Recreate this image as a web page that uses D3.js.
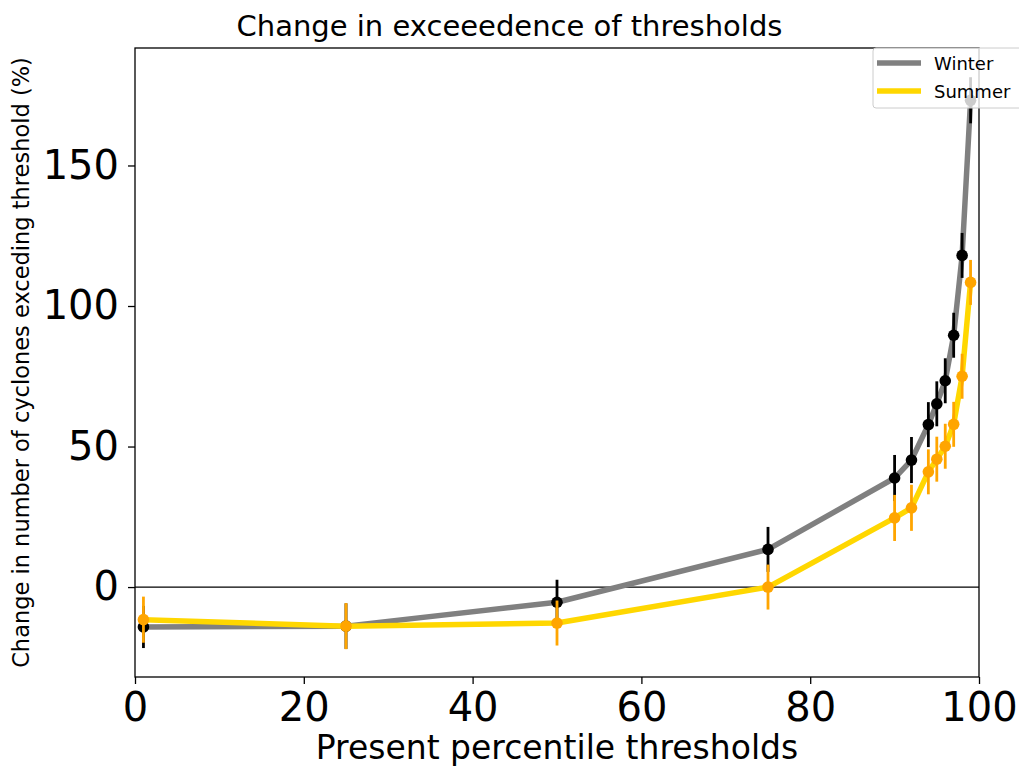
<!DOCTYPE html>
<html>
<head>
<meta charset="utf-8">
<script src="https://cdn.jsdelivr.net/npm/d3@7"></script>
<style>
  html, body { margin: 0; padding: 0; background: #fff; }
  svg { display: block; font-family: "DejaVu Sans", sans-serif; }
</style>
</head>
<body>
<svg id="chart" width="1019" height="769"></svg>
<script>
// Percentile thresholds (x positions)
const thresholds = [1, 25, 50, 75, 90, 92, 94, 95, 96, 97, 98, 99];

// Winter: change in number of cyclones exceeding threshold (%) and error half-widths
const winterValues = [-14.2, -13.9, -5.4, 13.4, 38.8, 45.2, 57.8, 65.2, 73.4, 89.6, 118.0, 173.2];
const winterErrors = [7.5, 8.1, 8.0, 8.0, 8.2, 8.2, 8.0, 8.0, 8.0, 8.0, 8.0, 8.2];

// Summer: change in number of cyclones exceeding threshold (%) and error half-widths
const summerValues = [-11.6, -13.9, -12.8, 0.0, 24.6, 28.2, 41.0, 45.5, 50.1, 57.9, 75.0, 108.4];
const summerErrors = [8.2, 8.2, 8.0, 8.0, 8.2, 8.2, 8.0, 8.0, 8.0, 8.0, 8.0, 8.0];

const xTicks = [0, 20, 40, 60, 80, 100];
const yTicks = [0, 50, 100, 150];

const seriesList = [
  { name: "Winter", values: winterValues, errors: winterErrors, line: "#808080", marker: "#000000" },
  { name: "Summer", values: summerValues, errors: summerErrors, line: "#FFD700", marker: "#FFA500" }
];

const svg = d3.select("#chart");
const margin = { left: 135, right: 1019 - 979, top: 48, bottom: 769 - 677 };
const width = 1019, height = 769;

const x = d3.scaleLinear().domain([0, 100]).range([margin.left, width - margin.right]);
const y = d3.scaleLinear().domain([-32, 191.8]).range([height - margin.bottom, margin.top]);

// Zero reference line
svg.append("line")
  .attr("x1", x(0)).attr("x2", x(100))
  .attr("y1", y(0)).attr("y2", y(0))
  .attr("stroke", "#000").attr("stroke-width", 1.3);

const plot = svg.append("g");
const lineGen = d3.line().x(d => x(d[0])).y(d => y(d[1]));

seriesList.forEach(s => {
  const pts = thresholds.map((t, i) => [t, s.values[i], s.errors[i]]);
  plot.append("path")
    .datum(pts)
    .attr("d", lineGen)
    .attr("fill", "none")
    .attr("stroke", s.line)
    .attr("stroke-width", 5.5)
    .attr("stroke-linejoin", "round");
  plot.append("g").selectAll("line")
    .data(pts).join("line")
    .attr("x1", d => x(d[0])).attr("x2", d => x(d[0]))
    .attr("y1", d => y(d[1] - d[2])).attr("y2", d => y(d[1] + d[2]))
    .attr("stroke", s.marker).attr("stroke-width", 2.8);
  plot.append("g").selectAll("circle")
    .data(pts).join("circle")
    .attr("cx", d => x(d[0])).attr("cy", d => y(d[1]))
    .attr("r", 5.8)
    .attr("fill", s.marker);
});

// Axes
const xAxis = svg.append("g")
  .attr("transform", `translate(0,${height - margin.bottom})`)
  .call(d3.axisBottom(x).tickValues(xTicks).tickSize(7).tickPadding(9).tickFormat(d3.format("d")));
const yAxis = svg.append("g")
  .attr("transform", `translate(${margin.left},0)`)
  .call(d3.axisLeft(y).tickValues(yTicks).tickSize(7).tickPadding(9).tickFormat(d3.format("d")));
[xAxis, yAxis].forEach(a => {
  a.select(".domain").remove();
  a.selectAll(".tick line").attr("stroke", "#000").attr("stroke-width", 1.3);
  a.selectAll(".tick text").attr("font-size", 40).attr("fill", "#000")
    .attr("font-family", "DejaVu Sans, sans-serif");
});

// Frame
svg.append("rect")
  .attr("x", x(0)).attr("y", margin.top)
  .attr("width", x(100) - x(0)).attr("height", height - margin.bottom - margin.top)
  .attr("fill", "none").attr("stroke", "#000").attr("stroke-width", 1.3);

// Titles
svg.append("text")
  .attr("x", width / 2).attr("y", 36)
  .attr("text-anchor", "middle").attr("font-size", 29)
  .text("Change in exceeedence of thresholds");
svg.append("text")
  .attr("x", (x(0) + x(100)) / 2).attr("y", 759)
  .attr("text-anchor", "middle").attr("font-size", 33)
  .text("Present percentile thresholds");
svg.append("text")
  .attr("transform", `translate(29,${(y.range()[0] + y.range()[1]) / 2}) rotate(-90)`)
  .attr("text-anchor", "middle").attr("font-size", 22.5)
  .text("Change in number of cyclones exceding threshold (%)");

// Legend
const legend = svg.append("g").attr("transform", "translate(873,48)");
legend.append("rect")
  .attr("x", 0).attr("y", 0).attr("width", 160).attr("height", 60).attr("rx", 3)
  .attr("fill", "rgba(255,255,255,0.8)").attr("stroke", "#cccccc").attr("stroke-width", 1);
seriesList.forEach((s, i) => {
  const ly = 15 + i * 28;
  legend.append("line")
    .attr("x1", 4).attr("x2", 48).attr("y1", ly).attr("y2", ly)
    .attr("stroke", s.line).attr("stroke-width", 5.5);
  legend.append("text")
    .attr("x", 61).attr("y", ly + 6.5)
    .attr("font-size", 18)
    .text(s.name);
});
</script>
</body>
</html>
